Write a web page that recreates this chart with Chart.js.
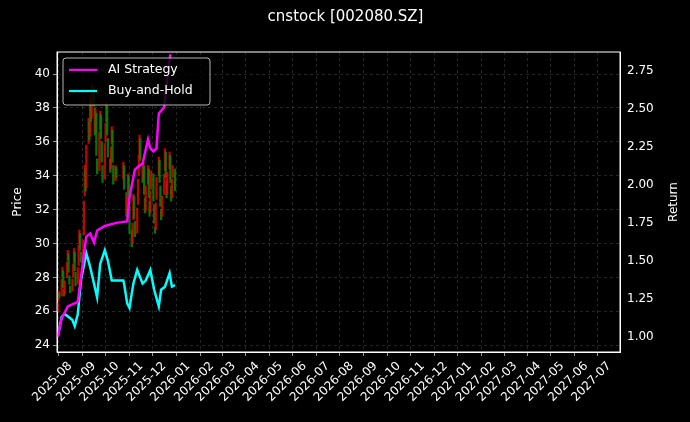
<!DOCTYPE html>
<html>
<head>
<meta charset="utf-8">
<script src="https://cdn.jsdelivr.net/npm/chart.js@4.4.0/dist/chart.umd.min.js"></script>
<style>
  html, body { margin: 0; padding: 0; background: #000; }
  #wrap { width: 690px; height: 422px; }
</style>
</head>
<body>
<div id="wrap"><canvas id="chart"></canvas></div>
<script>
// trading-day prices, 2025-07-16 .. 2025-12-15 (Oct 1-8 holiday)
const priceOpen = [
  26.0,26.6,27.1,26.9,28.0,28.4,27.3,27.0,28.0,29.0,29.4,28.1,
  27.5,27.2,28.0,28.9,29.5,28.3,27.6,28.7,30.0,30.6,29.5,29.0,30.5,32.8,34.4,33.3,35.9,37.2,36.3,38.4,37.4,
  39.2,38.0,36.6,37.7,35.0,34.3,36.7,37.6,36.0,34.6,33.8,36.0,37.2,38.1,36.2,35.0,34.4,35.9,36.7,34.6,33.7,34.5,
  33.8,34.6,33.0,31.8,32.9,34.0,32.2,30.8,30.0,31.4,32.8,31.3,30.6,32.3,34.0,35.0,36.2,
  34.7,33.8,34.6,32.7,31.9,33.5,34.4,32.5,31.8,33.2,34.1,32.3,31.0,30.8,32.6,34.0,34.9,33.4,32.0,31.6,
  32.9,34.3,35.4,33.7,32.9,34.4,35.2,33.4,32.7,33.9,34.4
];
const priceClose = [
  26.5,27.2,26.8,27.9,28.6,27.4,26.9,27.8,28.9,29.6,28.3,27.6,
  27.1,27.9,28.8,29.7,28.4,27.5,28.6,29.9,30.8,29.6,28.9,30.2,32.5,34.6,33.1,35.8,37.4,36.1,38.6,37.2,39.4,
  38.1,36.4,37.9,35.2,34.1,36.6,37.8,36.2,34.8,33.6,35.9,37.1,38.3,36.4,35.1,34.2,35.7,36.9,34.8,33.5,34.6,33.9,
  34.8,33.2,31.6,32.8,34.1,32.4,30.6,29.8,31.2,32.9,31.5,30.4,32.1,33.8,35.2,36.4,34.9,
  33.6,34.8,32.9,31.8,33.4,34.6,32.7,31.6,33.1,34.3,32.5,31.2,30.6,32.4,33.9,35.1,33.6,32.2,31.4,32.8,
  34.1,35.6,33.9,32.7,34.2,35.4,33.6,32.5,33.8,34.6,33.1
];

const aiDates = ['2025-07-16','2025-07-21','2025-07-29','2025-08-11','2025-08-15','2025-08-22','2025-08-27',
  '2025-09-01','2025-09-05','2025-09-15','2025-09-30','2025-10-14','2025-10-17','2025-10-24','2025-10-28',
  '2025-11-03','2025-11-10','2025-11-13','2025-11-17','2025-11-21','2025-11-24','2025-12-01','2025-12-05','2025-12-09'];
const aiReturn = [1.00,1.12,1.20,1.23,1.39,1.66,1.68,1.62,1.70,1.73,1.75,1.76,1.92,2.10,2.12,
  2.14,2.30,2.24,2.22,2.24,2.47,2.51,2.71,2.86];

const bhDates = ['2025-07-16','2025-07-21','2025-07-25','2025-08-04','2025-08-07','2025-08-11','2025-08-15',
  '2025-08-22','2025-08-27','2025-09-01','2025-09-05','2025-09-09','2025-09-15','2025-09-19','2025-09-24',
  '2025-10-09','2025-10-10','2025-10-14','2025-10-17','2025-10-22','2025-10-27','2025-11-03','2025-11-07',
  '2025-11-13','2025-11-18','2025-11-24','2025-11-27','2025-12-02','2025-12-08','2025-12-11','2025-12-15'];
const bhReturn = [1.00,1.13,1.15,1.11,1.07,1.15,1.37,1.55,1.46,1.35,1.26,1.48,1.57,1.50,1.37,
  1.37,1.35,1.22,1.19,1.35,1.44,1.35,1.37,1.44,1.31,1.20,1.31,1.33,1.42,1.33,1.34];

const day = s => Date.parse(s + 'T00:00:00Z');

// trading calendar for the candles
const tradeDays = [];
for (let t = day('2025-07-16'); t <= day('2025-12-15'); t += 86400000) {
  const d = new Date(t), wd = d.getUTCDay();
  const s = d.toISOString().slice(0, 10);
  if (wd === 0 || wd === 6) continue;
  if (s >= '2025-10-01' && s <= '2025-10-08') continue;
  tradeDays.push(t);
}

const candles = tradeDays.map((t, i) => ({ x: t, y: [priceOpen[i], priceClose[i]] }));
const candleColors = tradeDays.map((t, i) =>
  priceClose[i] >= priceOpen[i] ? 'rgba(230,0,0,0.85)' : 'rgba(0,140,0,0.85)');

// month ticks 2025-08 .. 2027-07
const monthTicks = [];
for (let y = 2025, m = 7; y < 2027 || m <= 6; ) {
  monthTicks.push(Date.UTC(y, m, 1));
  m++; if (m > 11) { m = 0; y++; }
}

const gridStyle = { color: 'rgba(140,140,140,0.45)', lineWidth: 0.6, tickColor: '#fff', tickLength: 4 };
const tickFont = { family: 'DejaVu Sans', size: 12 };

const bgPlugin = {
  id: 'bg',
  beforeDraw(c) {
    const ctx = c.ctx;
    ctx.save(); ctx.fillStyle = '#000'; ctx.fillRect(0, 0, c.width, c.height); ctx.restore();
  }
};

const framePlugin = {
  id: 'frame',
  afterDraw(c) {
    const a = c.chartArea, ctx = c.ctx;
    ctx.save();
    ctx.strokeStyle = '#fff'; ctx.lineWidth = 1;
    ctx.strokeRect(a.left, a.top, a.right - a.left, a.bottom - a.top);
    // right axis title, reading upward
    ctx.font = '12px "DejaVu Sans"';
    ctx.fillStyle = '#fff';
    ctx.textAlign = 'center'; ctx.textBaseline = 'middle';
    ctx.translate(674, (a.top + a.bottom) / 2); ctx.rotate(-Math.PI / 2);
    ctx.fillText('Return', 0, 0);
    ctx.setTransform(1, 0, 0, 1, 0, 0);
    ctx.scale(c.currentDevicePixelRatio, c.currentDevicePixelRatio);
    // legend box
    const x = a.left + 6, y = a.top + 6, w = 147, h = 47;
    ctx.fillStyle = 'rgba(0,0,0,0.8)';
    ctx.strokeStyle = 'rgba(200,200,200,0.9)';
    ctx.beginPath(); ctx.roundRect(x, y, w, h, 3); ctx.fill(); ctx.stroke();
    ctx.font = '12.5px "DejaVu Sans"';
    ctx.textAlign = 'left';
    [['AI Strategy', '#ff00ff'], ['Buy-and-Hold', '#00ffff']].forEach(([t, col], i) => {
      const yy = y + 12 + i * 21;
      ctx.strokeStyle = col; ctx.lineWidth = 2.2;
      ctx.beginPath(); ctx.moveTo(x + 6, yy); ctx.lineTo(x + 34, yy); ctx.stroke();
      ctx.fillStyle = '#fff'; ctx.fillText(t, x + 45, yy);
    });
    ctx.restore();
  }
};

new Chart(document.getElementById('chart'), {
  type: 'bar',
  data: {
    datasets: [
      {
        type: 'line', label: 'AI Strategy', yAxisID: 'y2',
        data: aiDates.map((d, i) => ({ x: day(d), y: aiReturn[i] })),
        borderColor: '#ff00ff', borderWidth: 2.5, pointRadius: 0, tension: 0
      },
      {
        type: 'line', label: 'Buy-and-Hold', yAxisID: 'y2',
        data: bhDates.map((d, i) => ({ x: day(d), y: bhReturn[i] })),
        borderColor: '#00ffff', borderWidth: 2.5, pointRadius: 0, tension: 0
      },
      {
        label: 'price', yAxisID: 'y', data: candles,
        backgroundColor: candleColors, borderWidth: 0, barThickness: 1.6, grouped: false
      }
    ]
  },
  options: {
    responsive: true, maintainAspectRatio: false, animation: false,
    layout: { padding: { top: 0, right: 10, bottom: 0, left: 11 } },
    plugins: {
      legend: { display: false },
      tooltip: { enabled: false },
      title: {
        display: true, text: 'cnstock [002080.SZ]', color: '#fff',
        font: { family: 'DejaVu Sans', size: 15, weight: 'normal' },
        padding: { top: 8, bottom: 26 }
      }
    },
    scales: {
      x: {
        type: 'linear', offset: false,
        min: day('2025-07-15'), max: day('2027-07-15'),
        afterBuildTicks: s => { s.ticks = monthTicks.map(v => ({ value: v })); },
        afterFit: s => { s.height = 70; },
        ticks: {
          color: '#fff', font: tickFont, maxRotation: 45, minRotation: 45, autoSkip: false,
          callback: v => new Date(v).toISOString().slice(0, 7)
        },
        grid: gridStyle,
        border: { color: '#fff', dash: [3, 3] }
      },
      y: {
        position: 'left', min: 23.6, max: 41.3,
        afterBuildTicks: s => { s.ticks = [24,26,28,30,32,34,36,38,40].map(v => ({ value: v })); },
        afterFit: s => { s.width = 46; },
        ticks: { color: '#fff', font: tickFont },
        title: { display: true, text: 'Price', color: '#fff', font: tickFont, padding: 0 },
        grid: gridStyle,
        border: { color: '#fff', dash: [3, 3] }
      },
      y2: {
        position: 'right', min: 0.90, max: 2.875,
        afterBuildTicks: s => { s.ticks = [1.0,1.25,1.5,1.75,2.0,2.25,2.5,2.75].map(v => ({ value: v })); },
        afterFit: s => { s.width = 60; },
        ticks: { color: '#fff', font: tickFont, callback: v => v.toFixed(2) },
        grid: { display: false, tickColor: '#fff', tickLength: 4 },
        border: { color: '#fff' }
      }
    }
  },
  plugins: [bgPlugin, framePlugin]
});
</script>
</body>
</html>
